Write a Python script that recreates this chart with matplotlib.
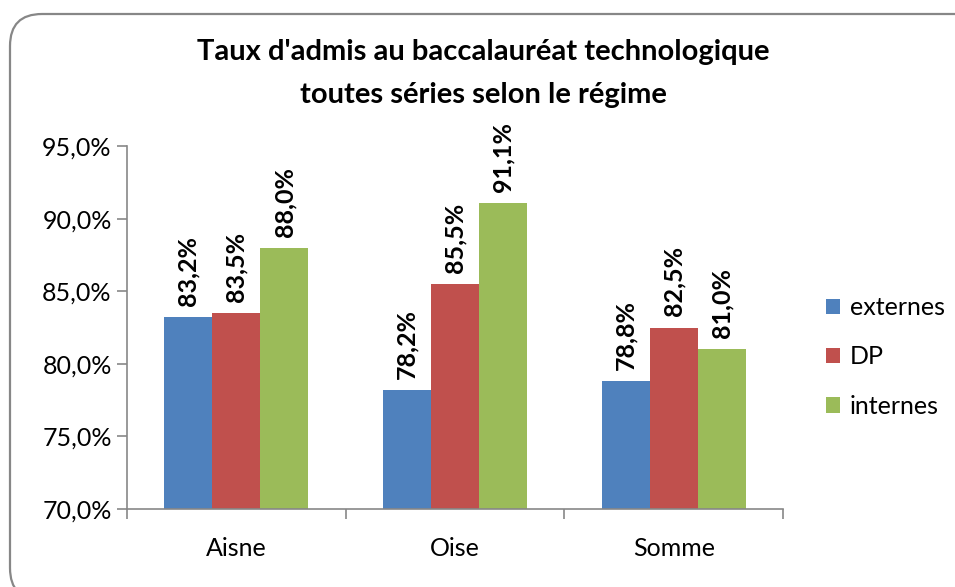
import matplotlib
matplotlib.use("Agg")
import matplotlib.pyplot as plt
from matplotlib.patches import FancyBboxPatch
import numpy as np

categories = ["Aisne", "Oise", "Somme"]
series = ["externes", "DP", "internes"]
externes = [83.2, 78.2, 78.8]
dp = [83.5, 85.5, 82.5]
internes = [88.0, 91.1, 81.0]
colors = ["#4F81BD", "#C0504D", "#9BBB59"]
yticks = [70, 75, 80, 85, 90, 95]

plt.rcParams['font.family'] = ['Lato', 'DejaVu Sans']

W, H = 955, 587
fig = plt.figure(figsize=(W/100, H/100), dpi=100)

# background pixel-space axes for the rounded border (y measured from bottom)
bg = fig.add_axes([0, 0, 1, 1])
bg.set_xlim(0, W)
bg.set_ylim(0, H)
bg.axis("off")
bg.add_patch(FancyBboxPatch((10, H - 600), 990 - 10, 600 - 14,
                            boxstyle="round,pad=0,rounding_size=32",
                            fill=False, edgecolor="#878787", linewidth=1.6))

ax = fig.add_axes([127/W, 1-509/H, (783-127)/W, (509-146)/H])
x = np.arange(len(categories))
bw = 0.22
for i, (name, vals) in enumerate(zip(series, [externes, dp, internes])):
    pos = x + (i-1)*bw
    ax.bar(pos, vals, bw, color=colors[i], label=name, bottom=0, zorder=2)
    for p, v in zip(pos, vals):
        ax.annotate(f"{v:.1f}%".replace(".", ","), (p, v), xytext=(0, 8),
                    textcoords="offset points", rotation=90, ha="center", va="bottom",
                    fontsize=18, fontweight="bold")

ax.set_ylim(70, 95)
ax.set_xlim(-0.5, 2.5)
ax.set_yticks(yticks)
ax.set_yticklabels([f"{t:.1f}%".replace(".", ",") for t in yticks], fontsize=18)
ax.set_xticks(x)
ax.set_xticklabels(categories, fontsize=18)
ax.set_xticks([-0.5, 0.5, 1.5, 2.5], minor=True)
ax.tick_params(axis="x", which="major", length=0, pad=20)
ax.tick_params(axis="x", which="minor", length=7, color="#878787", width=1.2)
ax.tick_params(axis="y", length=7, color="#878787", width=1.2, pad=4)
for s in ["top", "right"]:
    ax.spines[s].set_visible(False)
for s in ["left", "bottom"]:
    ax.spines[s].set_color("#878787")
    ax.spines[s].set_linewidth(1.2)

ax.legend(loc="center left", bbox_to_anchor=(826/W, 1-357/H), bbox_transform=fig.transFigure,
          frameon=False, fontsize=18, handlelength=0.56, handleheight=0.56,
          labelspacing=1.05, handletextpad=0.4, borderpad=0, borderaxespad=0)

fig.text(483/W, 1-52/H, "Taux d'admis au baccalauréat technologique", ha="center", va="center",
         fontsize=21, fontweight="bold")
fig.text(483/W, 1-95/H, "toutes séries selon le régime", ha="center", va="center",
         fontsize=21, fontweight="bold")

fig.savefig("out.png", dpi=100)
